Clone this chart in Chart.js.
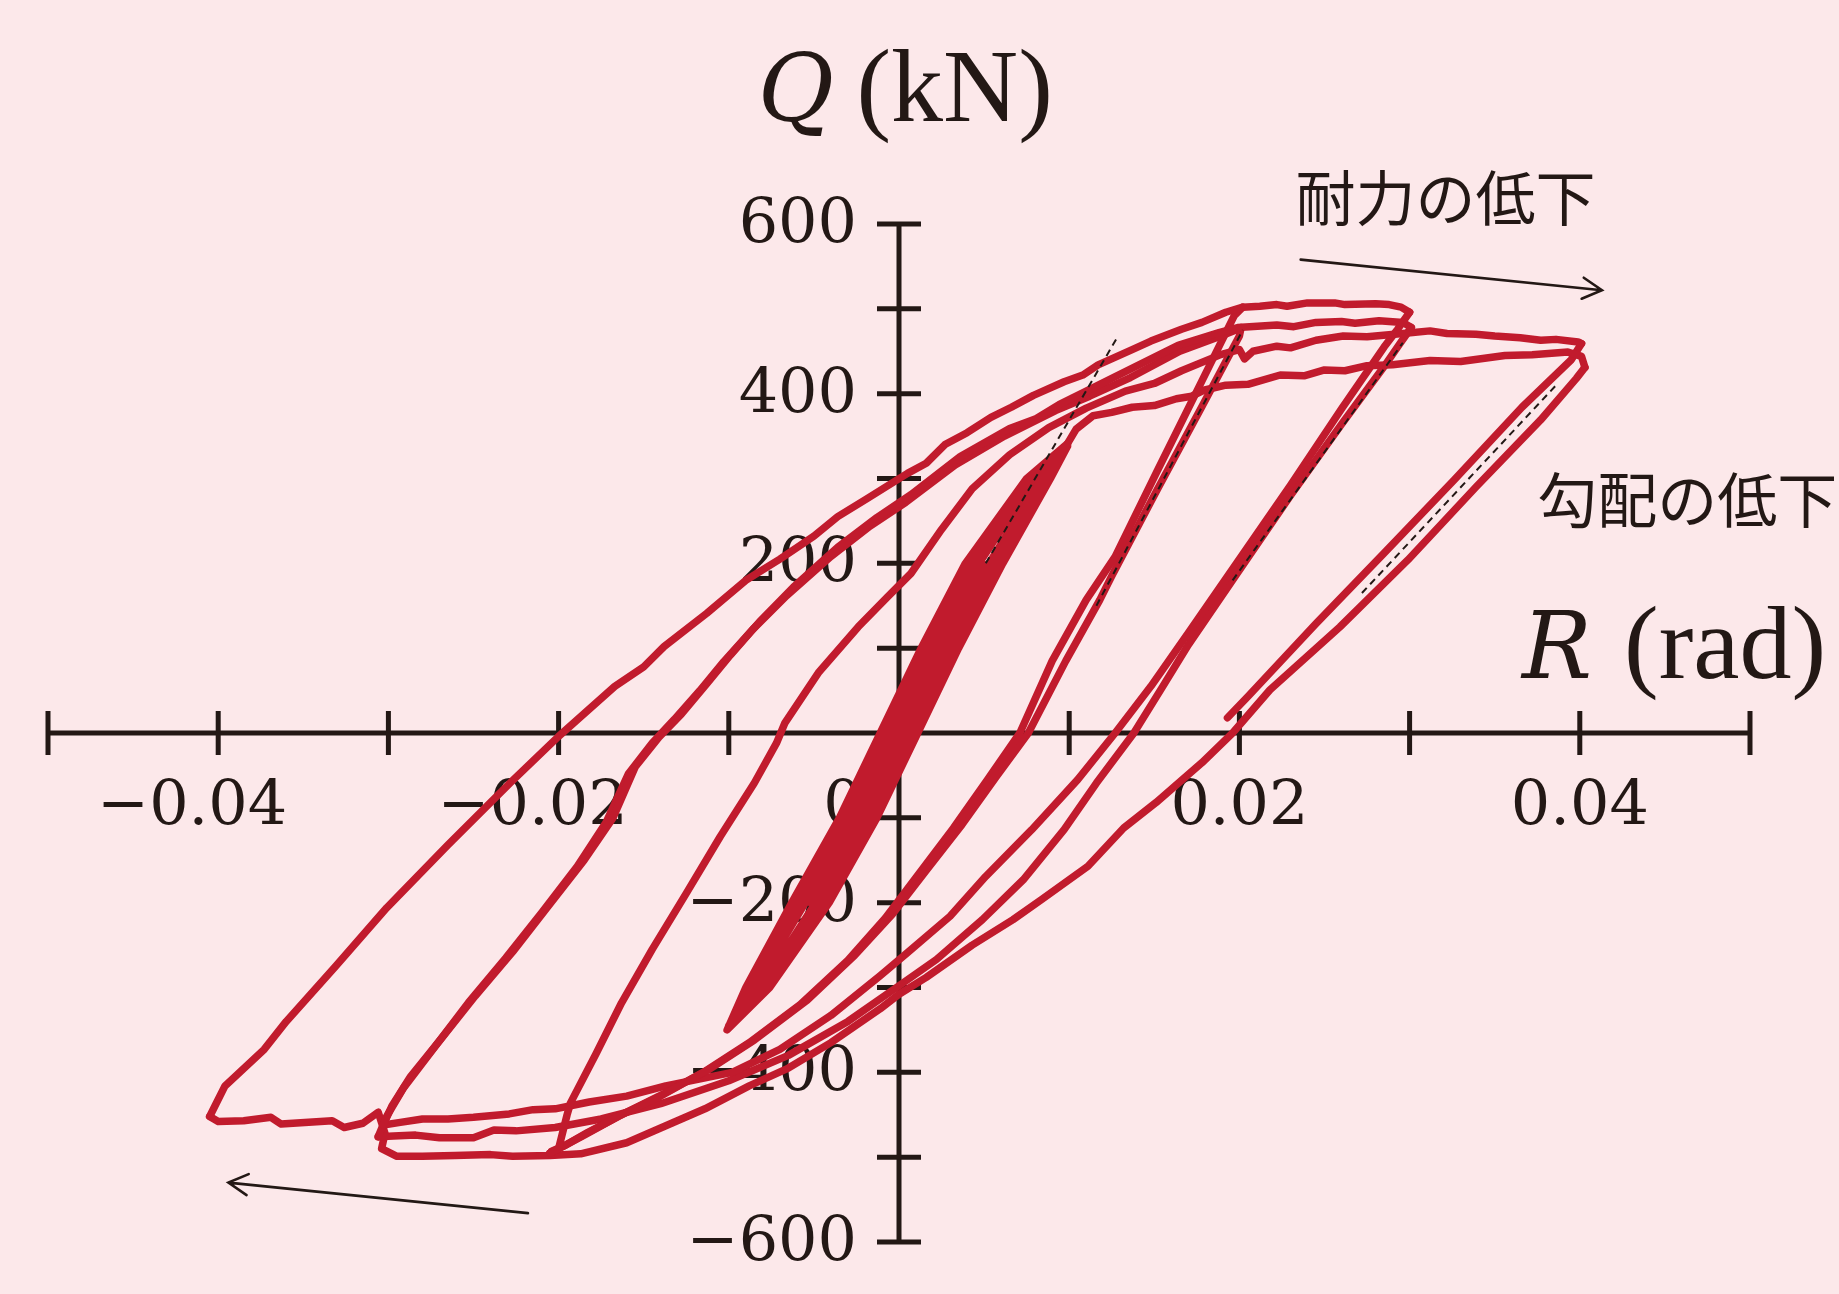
<!DOCTYPE html>
<html lang="ja">
<head>
<meta charset="utf-8">
<title>Q–R 履歴曲線</title>
<script src="https://cdn.jsdelivr.net/npm/chart.js@4.4.1/dist/chart.umd.min.js"></script>
<style>
  html, body { margin: 0; padding: 0; background: #fce8ea; }
  canvas { display: block; }
</style>
</head>
<body>
<canvas id="loopChart" width="1839" height="1294"></canvas>
<script>
// [R (rad), Q (kN)] pairs

// small cycles up to +-0.01 (dense band)
const band = [
  [0,0],[0.0012,48],[0.0025,95],[0.0014,60],[-0.0012,-50],[-0.0025,-98],[-0.0013,-55],[0.0012,45],
  [0.0026,100],[0.0051,198],[0.0038,150],[0.0012,50],[-0.0012,-50],[-0.0038,-150],[-0.0052,-200],
  [-0.0040,-155],[-0.0014,-55],[0.0012,50],[0.0036,140],[0.0061,200],[0.0089,300],[0.0099,341],
  [0.0075,300],[0.0039,200],[0.0013,100],[-0.0011,0],[-0.0035,-100],[-0.0063,-200],[-0.0090,-300],[-0.0101,-350],
  [-0.0076,-300],[-0.0041,-200],[-0.0013,-100],[0.0011,0],[0.0035,100],[0.0061,200],[0.0089,300],[0.0099,338],
  [0.0078,300],[0.0043,200],[0.0017,100],[-0.0007,0],[-0.0031,-100],[-0.0059,-200],[-0.0087,-300],[-0.0100,-347],
  [-0.0079,-300],[-0.0045,-200],[-0.0017,-100],[0.0007,0],[0.0031,100],[0.0057,200],[0.0086,300],[0.0099,338],
  [0.0080,300],[0.0047,200],[0.0021,100],[-0.0003,0],[-0.0027,-100],[-0.0055,-200],[-0.0085,-300],[-0.0100,-345],
  [-0.0081,-300],[-0.0049,-200],[-0.0021,-100],[0.0003,0],[0.0027,100],[0.0053,200],[0.0084,300],[0.0099,341]
];

// reload from -0.04 up to the top curve, ends at the 0.03 corner
const reloadFrom04 = [
  [-0.0405,-452],[-0.0402,-440],[-0.0396,-416],[-0.0373,-373],[-0.036,-340],[-0.0331,-275],[-0.0301,-206],
  [-0.0265,-132],[-0.0228,-58],[-0.0200,-4],[-0.0167,55],[-0.0150,78],[-0.0138,102],[-0.0113,141],[-0.009,180],
  [-0.007,205],[-0.0050,232],[-0.0036,255],[-0.0019,276],[0.0005,306],[0.0016,318],[0.0027,340],[0.0040,354],
  [0.0054,372],[0.0066,384],[0.0079,398],[0.0097,414],[0.0108,422],[0.0117,434],[0.0137,452],[0.0148,462],
  [0.0166,476],[0.0178,484],[0.0192,496],[0.0202,502],[0.0212,503],[0.0222,505],[0.0228,503],[0.0240,507],
  [0.0256,507],[0.0262,505],[0.0280,506],[0.0288,505],[0.0295,502],[0.0300,496]
];

// reloads from -0.03 (two, nearly on top of each other)
const reloadFrom03a = [
  [-0.0303,-462],[-0.0298,-440],[-0.0287,-405],[-0.0268,-358],[-0.0249,-310],[-0.0227,-258],[-0.0206,-204],
  [-0.0185,-150],[-0.0168,-100],[-0.0155,-40],[-0.0141,-5],[-0.0128,22],[-0.0113,58],[-0.0099,92],[-0.0082,131],
  [-0.0062,172],[-0.0036,219],[-0.0013,254],[0.0007,281],[0.0036,326],[0.0065,359],[0.0080,370],[0.0094,387],
  [0.011,403],[0.0133,426],[0.0164,457],[0.0188,472],[0.0199,478],[0.0206,479],[0.0222,481],[0.0232,479],
  [0.0245,484],[0.0260,485],[0.0268,483],[0.0282,486],[0.0296,484],[0.0301,478]
];
const reloadFrom03b = [
  [-0.0306,-476],[-0.0301,-452],[-0.0291,-418],[-0.0272,-368],[-0.0253,-318],[-0.0231,-265],[-0.0210,-212],
  [-0.0189,-157],[-0.0172,-105],[-0.0159,-48],[-0.0145,-12],[-0.0132,16],[-0.0117,50],[-0.0103,84],[-0.0086,122],
  [-0.0066,162],[-0.0040,208],[-0.0017,244],[0.0004,272],[0.0033,316],[0.0062,350],[0.0092,380],[0.0112,397],
  [0.0136,419],[0.0165,450],[0.0188,467],[0.0199,476]
];

// reload from -0.02, through 0.02 and on to 0.04
const reloadFrom02 = [
  [-0.0205,-495],[-0.0200,-490],[-0.0195,-450],[-0.0193,-436],[-0.0178,-378],[-0.0163,-318],[-0.0145,-255],
  [-0.0125,-189],[-0.0105,-122],[-0.0085,-59],[-0.0072,-12],[-0.0067,12],[-0.0047,72],[-0.0024,125],
  [-0.0007,160],[0.0007,188],[0.0025,240],[0.0043,288],[0.0065,328],[0.0088,360],[0.011,383],[0.0133,403],
  [0.0150,412],[0.0166,427],[0.0189,446],[0.0200,452],[0.0203,441],[0.0208,450],[0.0222,456],[0.0230,454],
  [0.0245,463],[0.0261,468],[0.0275,467],[0.0296,471],[0.0312,474],[0.0322,471],[0.0339,470],[0.0350,468],
  [0.0365,466],[0.0377,463],[0.0386,464],[0.0399,461],[0.0401,459]
];

// lowest upper curve, from the 0.01 tip to 0.04
const lowCurve = [
  [0.0099,341],[0.0104,358],[0.0114,374],[0.0125,378],[0.0137,384],[0.0150,386],[0.0163,394],[0.0172,397],
  [0.0179,404],[0.0192,410],[0.0205,411],[0.0224,422],[0.0238,421],[0.0250,428],[0.0262,427],[0.0275,433],
  [0.0290,434],[0.0312,439],[0.0330,438],[0.0356,445],[0.0372,446],[0.0393,449],[0.0401,444],[0.0403,431]
];

// unloading from +0.02
const unload02a = [
  [0.0202,502],[0.0197,492],[0.0178,415],[0.0152,310],[0.0127,208],[0.0110,157],[0.0090,85],[0.0071,0],
  [0.0052,-55],[0.0032,-112],[0.0012,-165],[-0.0008,-218],[-0.003,-268],[-0.0058,-320],[-0.0088,-365],
  [-0.0115,-400],[-0.014,-428],[-0.0165,-452],[-0.0185,-474],[-0.0198,-488],[-0.0205,-495]
];
const unload02b = [
  [0.0201,478],[0.0200,468],[0.0178,385],[0.0152,288],[0.0125,185],[0.0118,157],[0.0098,85],[0.0076,0],
  [0.0057,-52],[0.0037,-108],[0.0016,-162],[-0.0004,-214],[-0.0026,-262],[-0.0054,-315],[-0.0085,-362],
  [-0.0112,-397],[-0.0138,-425],[-0.0162,-449],[-0.0183,-471],[-0.0196,-486],[-0.0204,-493]
];

// unloading from +0.03
const unload03a = [
  [0.0300,496],[0.0293,476],[0.0285,455],[0.026,382],[0.023,292],[0.020,205],[0.017,118],[0.0148,55],
  [0.0127,0],[0.0105,-55],[0.0078,-114],[0.0051,-169],[0.003,-216],[0.0005,-259],[-0.0011,-286],[-0.004,-333],
  [-0.007,-373],[-0.0098,-400],[-0.0137,-416],[-0.016,-428],[-0.0182,-435],[-0.0202,-443],[-0.0215,-444],
  [-0.0229,-449],[-0.025,-453],[-0.0265,-455],[-0.0280,-455],[-0.0293,-459],[-0.0303,-462]
];
const unload03b = [
  [0.0301,478],[0.0294,458],[0.0285,432],[0.026,364],[0.023,280],[0.020,192],[0.017,104],[0.0155,55],
  [0.0138,0],[0.0116,-59],[0.0097,-114],[0.0073,-173],[0.0049,-220],[0.0022,-267],[0,-298],[-0.003,-340],
  [-0.0065,-380],[-0.01,-410],[-0.014,-437],[-0.0175,-455],[-0.0202,-465],[-0.0225,-469],[-0.0238,-468],
  [-0.025,-477],[-0.027,-477],[-0.0284,-474],[-0.0297,-475],[-0.0306,-476]
];

// unloading from +0.04 down to -0.04
const unload04 = [
  [0.0403,431],[0.0398,418],[0.0377,369],[0.0339,290],[0.0299,204],[0.0259,125],[0.0218,51],[0.0196,0],
  [0.0178,-35],[0.0151,-82],[0.0132,-112],[0.0111,-157],[0.0084,-196],[0.0067,-220],[0.0043,-250],
  [0.0016,-288],[0,-308],[-0.0011,-325],[-0.004,-365],[-0.0065,-395],[-0.0088,-416],[-0.0114,-443],
  [-0.0137,-463],[-0.016,-483],[-0.0187,-496],[-0.0205,-498],[-0.0227,-499],[-0.0240,-497],[-0.0261,-498],
  [-0.0280,-499],[-0.0295,-499],[-0.0304,-490],[-0.0302,-472],[-0.0306,-447],[-0.0315,-460],[-0.0326,-465],
  [-0.0333,-457],[-0.0363,-461],[-0.0369,-453],[-0.0385,-457],[-0.0400,-458],[-0.0405,-452]
];

// last unloading from +0.04, the record stops here
const unloadEnd = [
  [0.0401,459],[0.0395,440],[0.0366,384],[0.0326,298],[0.0285,212],[0.0245,129],[0.0205,43],[0.0193,18]
];

// dashed reference slopes
const slope01 = [[0.0051,200],[0.0129,469]];
const slope02 = [[0.0116,150],[0.0202,475]];
const slope03 = [[0.0196,180],[0.0296,460]];
const slope04 = [[0.0272,165],[0.0387,412]];

const xTickValues = [-0.05,-0.04,-0.03,-0.02,-0.01,0.01,0.02,0.03,0.04,0.05];
const yTickValues = [-600,-500,-400,-300,-200,-100,100,200,300,400,500,600];
const xLabelValues = [-0.04,-0.02,0,0.02,0.04];
const xLabels = ['\u22120.04','\u22120.02','0','0.02','0.04'];
const yLabelValues = [600,400,200,-200,-400,-600];
const yLabels = ['600','400','200','\u2212200','\u2212400','\u2212600'];

const bg = '#fce8ea';
const ink = '#231815';
const red = '#c11b2d';

const curves = [band, reloadFrom04, reloadFrom03a, reloadFrom03b, reloadFrom02, lowCurve,
  unload02a, unload02b, unload03a, unload03b, unload04, unloadEnd];
const slopes = [slope01, slope02, slope03, slope04];

const toXY = arr => arr.map(([x, y]) => ({ x, y }));

const datasets = [];
slopes.forEach(s => datasets.push({
  data: toXY(s), showLine: true, borderColor: ink, borderWidth: 2,
  borderDash: [7, 5], pointRadius: 0, order: 0
}));
curves.forEach(c => datasets.push({
  data: toXY(c), showLine: true, borderColor: red, borderWidth: 7.5,
  borderJoinStyle: 'round', borderCapStyle: 'round', pointRadius: 0, order: 1
}));

function arrow(ctx, x1, y1, x2, y2) {
  const a = Math.atan2(y2 - y1, x2 - x1);
  const len = 22, spread = 0.5;
  ctx.beginPath();
  ctx.moveTo(x1, y1);
  ctx.lineTo(x2, y2);
  ctx.moveTo(x2 - len * Math.cos(a - spread), y2 - len * Math.sin(a - spread));
  ctx.lineTo(x2, y2);
  ctx.lineTo(x2 - len * Math.cos(a + spread), y2 - len * Math.sin(a + spread));
  ctx.stroke();
}

const frame = {
  id: 'frame',
  beforeDraw(chart) {
    const { ctx, width, height } = chart;
    ctx.save();
    ctx.fillStyle = bg;
    ctx.fillRect(0, 0, width, height);
    ctx.restore();
  },
  beforeDatasetsDraw(chart) {
    const { ctx } = chart;
    const sx = chart.scales.x, sy = chart.scales.y;
    const px = v => sx.getPixelForValue(v);
    const py = v => sy.getPixelForValue(v);
    const x0 = px(0), y0 = py(0);

    ctx.save();
    ctx.strokeStyle = ink;
    ctx.fillStyle = ink;
    ctx.lineWidth = 5;

    // axes through the origin
    ctx.beginPath();
    ctx.moveTo(px(-0.05), y0); ctx.lineTo(px(0.05), y0);
    ctx.moveTo(x0, py(600)); ctx.lineTo(x0, py(-600));
    ctx.stroke();

    // tick marks cross the axes
    ctx.beginPath();
    xTickValues.forEach(v => { ctx.moveTo(px(v), y0 - 22); ctx.lineTo(px(v), y0 + 22); });
    yTickValues.forEach(v => { ctx.moveTo(x0 - 22, py(v)); ctx.lineTo(x0 + 22, py(v)); });
    ctx.stroke();

    // tick labels
    ctx.font = '62px "DejaVu Serif"';
    ctx.textBaseline = 'middle';
    ctx.textAlign = 'right';
    yLabelValues.forEach((v, i) => ctx.fillText(yLabels[i], x0 - 42, py(v) + 2));

    ctx.textBaseline = 'alphabetic';
    xLabelValues.forEach((v, i) => {
      const t = xLabels[i];
      if (v === 0) {
        ctx.textAlign = 'center';
        ctx.fillText(t, x0 - 56, y0 + 91);
        return;
      }
      const digits = t.replace('\u2212', '');
      const w = ctx.measureText(digits).width;
      ctx.textAlign = 'right';
      ctx.fillText(t, px(v) + w / 2, y0 + 91);
    });

    // axis titles
    ctx.textAlign = 'left';
    ctx.font = 'italic 93px "DejaVu Serif"';
    ctx.fillText('Q', px(-0.0083), py(721));
    ctx.fillText('R', px(0.0366), py(65));
    ctx.font = '104px "Liberation Serif"';
    ctx.fillText('(kN)', px(-0.0025), py(721));
    ctx.fillText('(rad)', px(0.0426), py(65));

    // notes and arrows
    ctx.font = '60px "Noto Sans CJK JP"';
    ctx.textBaseline = 'middle';
    ctx.fillText('耐力の低下', px(0.0233), py(630));
    ctx.fillText('勾配の低下', px(0.0375), py(275));

    ctx.lineWidth = 2.6;
    ctx.lineCap = 'round';
    ctx.lineJoin = 'miter';
    arrow(ctx, px(0.0236), py(558), px(0.0413), py(522));
    arrow(ctx, px(-0.0218), py(-566), px(-0.0394), py(-530));
    ctx.restore();
  }
};

new Chart(document.getElementById('loopChart').getContext('2d'), {
  type: 'scatter',
  data: { datasets },
  options: {
    responsive: false,
    animation: false,
    layout: { padding: { left: 48, right: 89, top: 224, bottom: 52 } },
    scales: {
      x: { type: 'linear', min: -0.05, max: 0.05, display: false },
      y: { type: 'linear', min: -600, max: 600, display: false }
    },
    plugins: { legend: { display: false }, tooltip: { enabled: false } },
    elements: { line: { tension: 0 } }
  },
  plugins: [frame]
});
</script>
</body>
</html>
